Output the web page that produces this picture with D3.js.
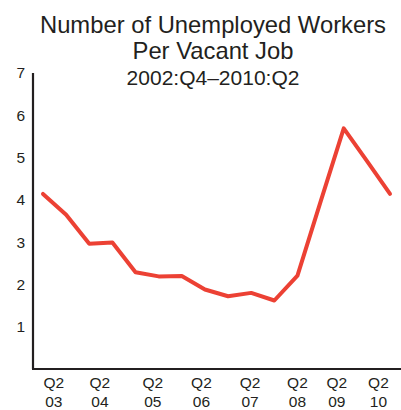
<!DOCTYPE html>
<html>
<head>
<meta charset="utf-8">
<script src="https://cdn.jsdelivr.net/npm/d3@7"></script>
<style>
  html, body { margin: 0; padding: 0; background: #fff; }
  svg { display: block; font-family: "Liberation Sans", Arial, Helvetica, sans-serif; }
</style>
</head>
<body>
<svg id="chart" width="401" height="410"></svg>
<script>
// Semi-annual observations, quarter index counted from 2002:Q4 (0) to 2010:Q2 (30)
const quarterIndex = [0, 2, 4, 6, 8, 10, 12, 14, 16, 18, 20, 22, 24, 26, 28, 30];
const ratio = [4.14, 3.65, 2.96, 2.99, 2.29, 2.19, 2.20, 1.88, 1.72, 1.80, 1.62, 2.21, 3.96, 5.69, 4.92, 4.14];

// Year labels under the time axis and where they sit (quarter index)
const tickQuarter = [0.94, 4.92, 9.5, 13.7, 17.9, 22, 25.4, 29];
const tickYear = ["03", "04", "05", "06", "07", "08", "09", "10"];
const yTicks = [1, 2, 3, 4, 5, 6, 7];

const titleLines = ["Number of Unemployed Workers", "Per Vacant Job"];
const subtitle = "2002:Q4\u20132010:Q2";

const svg = d3.select("#chart");
const ink = "#231f20";

const x = d3.scaleLinear().domain([0, 30]).range([43, 390]);
const y = d3.scaleLinear().domain([0, 7]).range([369, 73]);

// Title block
const title = svg.append("g").attr("fill", ink).attr("text-anchor", "middle");
title.selectAll("text.t")
  .data(titleLines)
  .join("text")
  .attr("class", "t")
  .attr("x", 213)
  .attr("y", (d, i) => 32.5 + i * 26.5)
  .attr("font-size", 23.8)
  .text(d => d);
title.append("text")
  .attr("x", 213)
  .attr("y", 84.5)
  .attr("font-size", 21)
  .text(subtitle);

// Vertical axis
const yAxis = svg.append("g")
  .attr("transform", "translate(33,0)")
  .call(d3.axisLeft(y).tickValues(yTicks).tickSize(0).tickPadding(8).tickFormat(d3.format("d")));
yAxis.select(".domain").remove();
yAxis.selectAll("text").attr("font-size", 15.5).attr("fill", ink).attr("font-family", null);

svg.append("line")
  .attr("x1", 33).attr("x2", 33)
  .attr("y1", y(7)).attr("y2", y(0))
  .attr("stroke", ink).attr("stroke-width", 2.2);

// Horizontal axis
svg.append("line")
  .attr("x1", 32).attr("x2", 401)
  .attr("y1", y(0)).attr("y2", y(0))
  .attr("stroke", ink).attr("stroke-width", 2.2);

const xl = svg.append("g").attr("fill", ink).attr("text-anchor", "middle").attr("font-size", 15.5);
const lab = xl.selectAll("text")
  .data(tickQuarter.map((q, i) => ({ q, yr: tickYear[i] })))
  .join("text")
  .attr("x", d => x(d.q))
  .attr("y", 388);
lab.append("tspan").attr("x", d => x(d.q)).text("Q2");
lab.append("tspan").attr("x", d => x(d.q)).attr("dy", 19).text(d => d.yr);

// Series line
const line = d3.line()
  .x((d, i) => x(quarterIndex[i]))
  .y(d => y(d));

svg.append("path")
  .datum(ratio)
  .attr("fill", "none")
  .attr("stroke", "#ec4134")
  .attr("stroke-width", 4)
  .attr("stroke-linejoin", "round")
  .attr("stroke-linecap", "round")
  .attr("d", line);
</script>
</body>
</html>
